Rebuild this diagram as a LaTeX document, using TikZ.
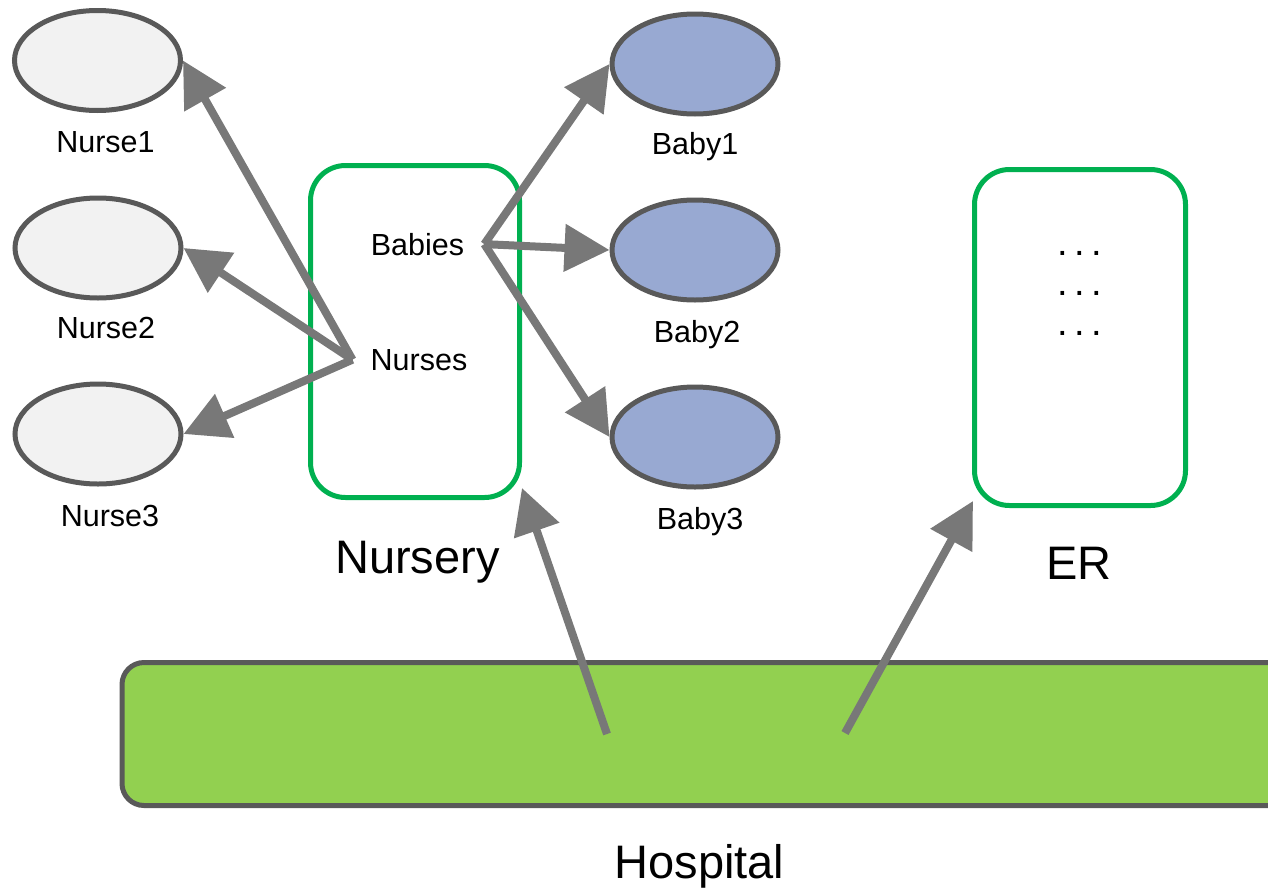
\documentclass[tikz,border=0pt]{standalone}
\usepackage{fontspec}
\setmainfont{Liberation Sans}
\usetikzlibrary{shapes.geometric,arrows.meta}

\definecolor{edgegray}{HTML}{595959}
\definecolor{arrowgray}{HTML}{787878}
\definecolor{nursefill}{HTML}{F2F2F2}
\definecolor{babyfill}{HTML}{98A9D2}
\definecolor{roomgreen}{HTML}{00B050}
\definecolor{hospfill}{HTML}{92D050}

\begin{document}
\begin{tikzpicture}[x=1pt,y=-1pt,
  person/.style={ellipse, draw=edgegray, line width=5pt,
    minimum width=166pt, minimum height=100pt, inner sep=0pt},
  nurse/.style={person, fill=nursefill},
  baby/.style={person, fill=babyfill},
  room/.style={rectangle, draw=roomgreen, line width=5pt,
    rounded corners=35pt, inner sep=0pt},
  hospbox/.style={rectangle, draw=edgegray, fill=hospfill, line width=5pt,
    rounded corners=22pt, inner sep=0pt},
  small/.style={font=\fontsize{30.5}{36}\selectfont, inner sep=0pt},
  dotrow/.style={font=\fontsize{38}{44}\selectfont, inner sep=0pt},
  big/.style={font=\fontsize{47}{56}\selectfont, inner sep=0pt},
  arr/.style={draw=arrowgray, line width=8pt,
    -{Triangle[length=45pt,width=46pt]}, fill=arrowgray},
]
\useasboundingbox (0,0) rectangle (1268,889);

% hospital floor
\node[hospbox, minimum width=1168pt, minimum height=143pt] (hospital) at (706,734) {};
\node[big, anchor=base] (hosplbl) at (699.5,878) {Hospital};

% rooms
\node[room, minimum width=209pt, minimum height=332pt] (nursery) at (415,331.5) {};
\node[big, anchor=base] (nurserylbl) at (417.5,573) {Nursery};
\node[room, minimum width=211pt, minimum height=336pt] (er) at (1080,337.5) {};
\node[big, anchor=base] (erlbl) at (1079,579) {ER};

% placeholder rows inside ER
\node[dotrow, anchor=base] (dots1) at (1080,255.5) {.\hspace{6.4pt}.\hspace{6.4pt}.};
\node[dotrow, anchor=base] (dots2) at (1080,295.5) {.\hspace{6.4pt}.\hspace{6.4pt}.};
\node[dotrow, anchor=base] (dots3) at (1080,335.5) {.\hspace{6.4pt}.\hspace{6.4pt}.};

% nursery fields
\node[small, anchor=base, inner xsep=20pt] (babies) at (417.5,255) {Babies};
\node[small, anchor=base, inner xsep=18pt] (nurses) at (419,370) {Nurses};

% nurses
\node[nurse] (n1) at (97.5,60.5) {};
\node[nurse] (n2) at (98,248) {};
\node[nurse] (n3) at (98,434) {};
\node[small, anchor=base] (n1lbl) at (105.5,152) {Nurse1};
\node[small, anchor=base] (n2lbl) at (106,338) {Nurse2};
\node[small, anchor=base] (n3lbl) at (110,526) {Nurse3};

% babies
\node[baby] (b1) at (695,64) {};
\node[baby] (b2) at (695,250) {};
\node[baby] (b3) at (695,437) {};
\node[small, anchor=base] (b1lbl) at (695,154) {Baby1};
\node[small, anchor=base] (b2lbl) at (697,342) {Baby2};
\node[small, anchor=base] (b3lbl) at (700,529) {Baby3};

% references
\draw[arr] (nurses.west) -- (n1.east);
\draw[arr] (nurses.west) -- (n2.east);
\draw[arr] (nurses.west) -- (n3.east);
\draw[arr] (babies.east) -- (b1.west);
\draw[arr] (babies.east) -- (b2.west);
\draw[arr] (babies.east) -- (b3.west);

% hospital links to its rooms
\coordinate (hs1) at (607,734);
\coordinate (hs2) at (845,733);
\coordinate (nurseryin) at (522,488);
\coordinate (erin) at (973,501);
\draw[arr] (hs1) -- (nurseryin);
\draw[arr] (hs2) -- (erin);
\end{tikzpicture}
\end{document}
